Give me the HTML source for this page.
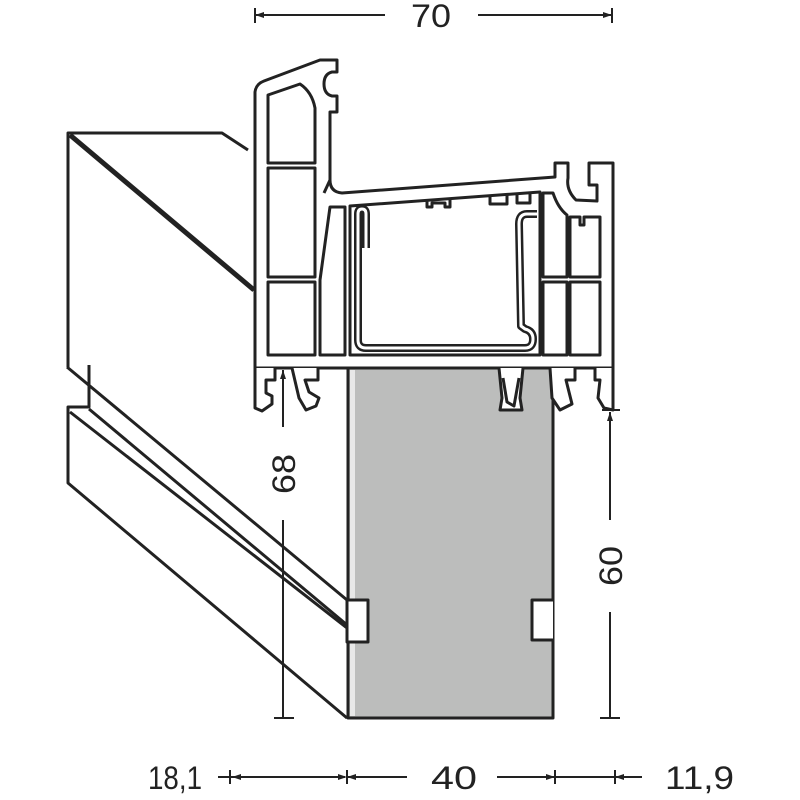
<!DOCTYPE html>
<html><head><meta charset="utf-8"><style>
html,body{margin:0;padding:0;background:#fff;width:800px;height:800px;overflow:hidden}
svg{display:block}
text{font-family:"Liberation Sans",sans-serif;fill:#222}
</style></head><body>
<svg width="800" height="800" viewBox="0 0 800 800" xmlns="http://www.w3.org/2000/svg">
<g fill="none" stroke="#222" stroke-width="3" stroke-linejoin="round">
<!-- board -->
<path d="M68,367 L68,133 L222,133 L248,150"/>
<path d="M70,135 L254,290" stroke-width="5"/>
<path d="M67,367 L347,600"/>
<path d="M89,365 L89,407 L68,407 L68,483 L347,718"/>
<path d="M89,409 L365,640"/>
<path d="M70,412 L365,642"/>
<!-- gray block -->
<rect x="348" y="368" width="205" height="350" fill="#bcbdbc"/>
<rect x="350" y="370" width="5" height="346" fill="#e8e8e8" stroke="none"/>
<rect x="347" y="600" width="21" height="42" fill="#fff"/>
<path d="M553,600 L532,600 L532,640 L553,640" fill="#fff"/>
<!-- profile outer -->
<path fill="#fff" d="M255,368 L255,92 Q256,84 264,81 L320,60 L337,60 L337,72 L332,72 Q324,74 324,84 Q324,94 332,96 L337,96 L337,112 L330,112 L330,180 Q330,192 342,193 L555,177 L555,163 L568,163 L568,178 Q566,190 576,200 L597,201 L597,185 L589,185 L589,163 L613,163 L613,368 Z"/>
<path d="M255,368 L613,368"/>
<!-- feet -->
<path fill="#fff" d="M255,368 L255,408 L262,411 L272,404 L272,396 L266,393 L266,380 L275,380 L275,368"/>
<path fill="#fff" d="M292,368 L299,398 L306,410 L316,406 L319,398 L309,392 L305,380 L318,380 L318,368"/>
<path fill="#fff" d="M499,368 L502,398 L500,410 L522,410 L520,398 L523,368" />
<path d="M503,378 L507,402 L514,406 L519,378"/>
<path fill="#fff" d="M550,368 L552,398 L560,410 L572,404 L569,392 L566,380 L575,380 L575,368"/>
<path fill="#fff" d="M595,368 L595,380 L600,380 L598,398 L604,408 L613,410 L613,368"/>
<!-- cells -->
<path d="M268,95 L300,84 Q312,92 315,108 L315,163 L268,163 Z"/>
<rect x="268" y="168" width="47" height="109"/>
<rect x="268" y="282" width="47" height="73"/>
<path d="M330,207 L345,207 L345,355 L320,355 L320,280 Z"/>
<path d="M350,206 L540,192 L540,355 L350,355 Z"/>
<path d="M427,199 L427,207 L432,207 L432,203 L445,203 L445,207 L450,207 L450,198"/>
<path d="M490,196 L490,204 L507,204 L507,195"/>
<path d="M517,195 L517,203 L530,203 L530,194"/>
<path d="M543,193 L553,193 Q558,208 567,215 L567,277 L543,277 Z"/>
<rect x="543" y="282" width="24" height="73"/>
<path d="M570,217 L580,217 L580,225 L584,225 L584,217 L600,217 L600,277 L570,277 Z"/>
<rect x="570" y="282" width="30" height="73"/>
<path d="M324,193 L330,180" />
<!-- liner -->
<path d="M366,248 L366,214 Q366,209 362,209 Q358,209 358,214 L358,340 Q358,348 366,348 L525,348 Q533,348 533,339 Q533,331 525,329 L521,326 L519,224 Q519,214 527,214 L537,214" stroke-width="8"/>
<path d="M366,248 L366,214 Q366,209 362,209 Q358,209 358,214 L358,340 Q358,348 366,348 L525,348 Q533,348 533,339 Q533,331 525,329 L521,326 L519,224 Q519,214 527,214 L537,214" stroke="#fff" stroke-width="3"/>
<!-- dimensions -->
<g stroke-width="2">
<path d="M255,8 L255,23 M255,15 L385,15 M478,15 L612,15 M612,8 L612,23"/>
<path d="M283,370 L283,427 M283,520 L283,718 M274,718 L294,718"/>
<path d="M610,412 L610,520 M610,612 L610,718 M600,718 L620,718 M602,410 L620,410"/>
<path d="M218,777 L345,777 M230,770 L230,784 M347,770 L347,784 M347,777 L407,777 M497,777 L615,777 M555,770 L555,784 M615,770 L615,784 M615,777 L642,777"/>
</g>
</g>
<g fill="#222">
<path d="M255,15 l9,-3 v6 z M612,15 l-9,-3 v6 z M283,370 l-3,9 h6 z M610,412 l-3,9 h6 z M347,777 l-9,-3 v6 z M232,777 l9,-3 v6 z M347,777 l9,-3 v6 z M555,777 l-9,-3 v6 z M615,777 l9,-3 v6 z"/>
</g>
<text x="431" y="27" font-size="32" text-anchor="middle" textLength="40" lengthAdjust="spacingAndGlyphs">70</text>
<text transform="translate(295,474) rotate(-90)" font-size="32" text-anchor="middle" textLength="40" lengthAdjust="spacingAndGlyphs">68</text>
<text transform="translate(622,566) rotate(-90)" font-size="32" text-anchor="middle" textLength="40" lengthAdjust="spacingAndGlyphs">60</text>
<text x="148" y="789" font-size="32" textLength="54" lengthAdjust="spacingAndGlyphs">18,1</text>
<text x="431" y="789" font-size="32" textLength="46" lengthAdjust="spacingAndGlyphs">40</text>
<text x="665" y="789" font-size="32" textLength="69" lengthAdjust="spacingAndGlyphs">11,9</text>
</svg>
</body></html>
